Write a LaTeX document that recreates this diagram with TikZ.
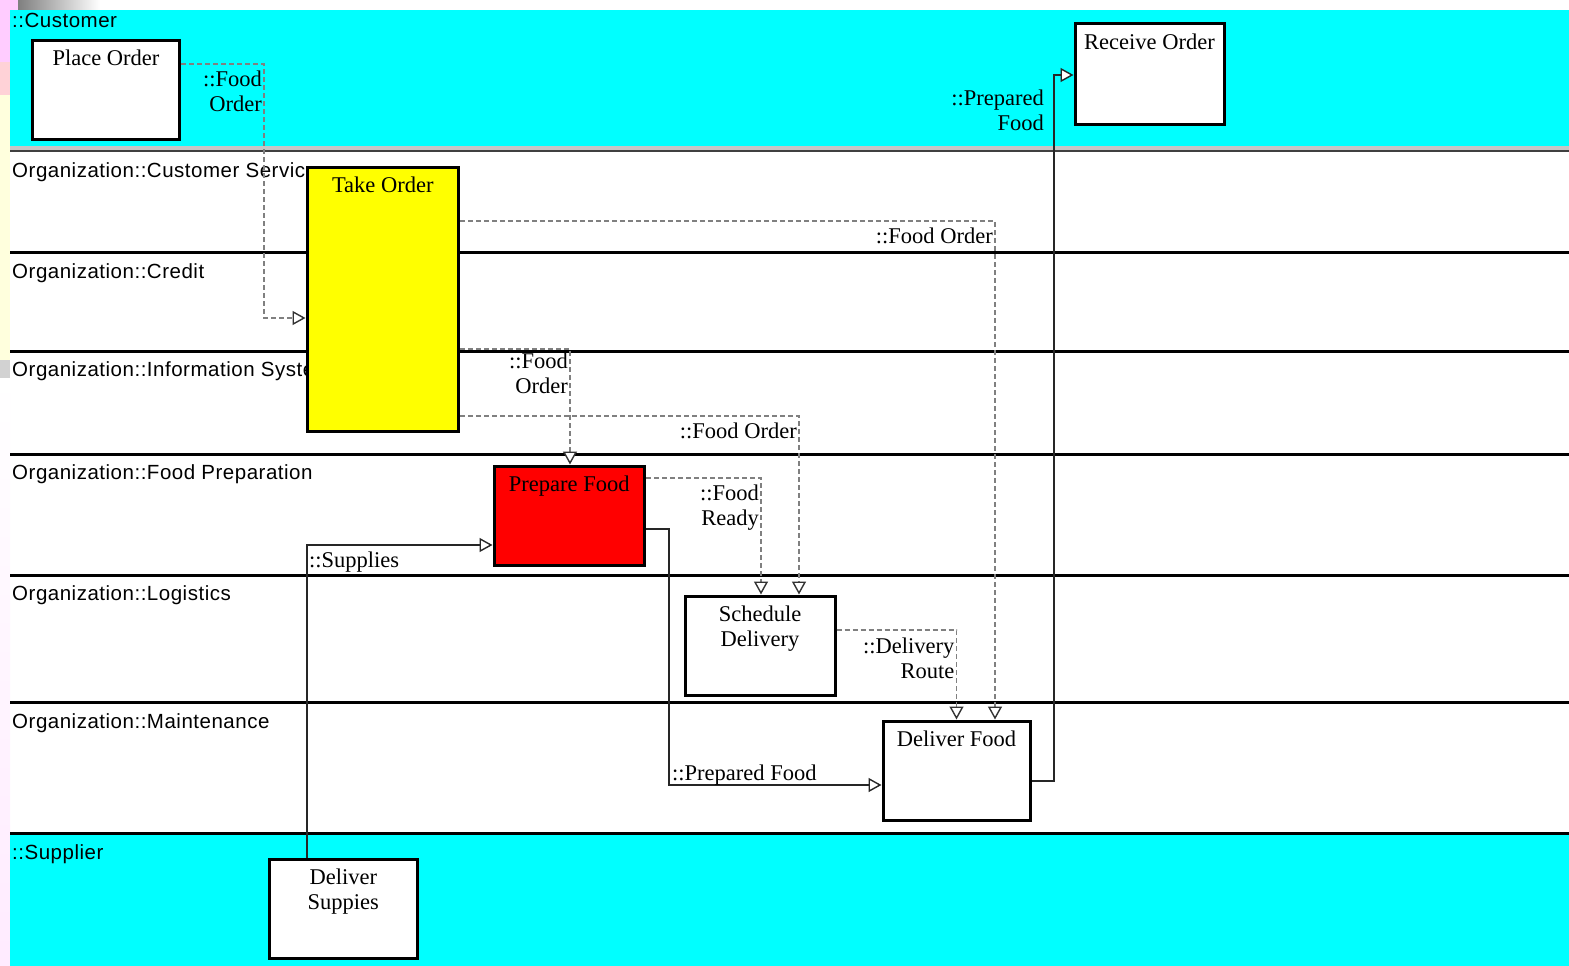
\documentclass[tikz,border=0pt]{standalone}
\usepackage{fontspec}
\setmainfont{Liberation Serif}
\newfontfamily\lanefont[LetterSpace=2.5]{Liberation Sans}
\usepackage{xcolor}
\usetikzlibrary{positioning, calc, arrows.meta}
\definecolor{lcyan}{RGB}{0,255,255}
\definecolor{lyellow}{RGB}{255,255,0}
\definecolor{lred}{RGB}{255,0,0}
\definecolor{dgray}{RGB}{128,128,128}
\definecolor{lpink}{RGB}{255,204,255}
\definecolor{lrose}{RGB}{255,210,215}
\definecolor{lcream}{RGB}{255,255,221}
\tikzstyle{Activity} = [
draw,
line width=3pt,
fill=white,
inner sep=0pt,
minimum width=149pt,
minimum height=99pt]
\tikzstyle{Caption} = [
inner sep=0pt,
align=center,
anchor=north,
yshift=-11pt,
font=\fontsize{22.5}{25}\selectfont]
\tikzstyle{Lane} = [
inner sep=0pt,
anchor=base west,
font=\lanefont\fontsize{20.5}{24}\selectfont]
\tikzstyle{LaneLine} = [line width=3pt, black]
\tikzstyle{FlowLabel} = [
inner sep=0pt,
align=right,
font=\fontsize{22.5}{25}\selectfont]
\tikzstyle{Flow} = [
line width=1.5pt,
black!85,
-{Triangle[length=13pt, width=14pt, line width=1.4pt, fill=white]}]
\tikzstyle{FlowDashed} = [
line width=1.3pt,
dgray,
dash pattern=on 5pt off 3pt,
-{Triangle[length=13pt, width=14pt, line width=1.4pt, color=black!80, fill=white]}]

\begin{document}
\begin{tikzpicture}[x=1pt, y=-1pt]
    \useasboundingbox (0,0) rectangle (1569,966);
    % slide background
    \fill[white] (0,0) rectangle (1569,966);
    \fill[lpink] (0,0) rectangle (18,10);
    \shade[left color=gray, right color=white] (18,0) rectangle (100,10);
    \fill[lpink] (0,10) rectangle (10,62);
    \fill[lrose] (0,62) rectangle (10,95);
    \fill[lcream] (0,95) rectangle (10,360);
    \fill[gray!35] (0,360) rectangle (10,378);
    \shade[top color=white, bottom color=lpink!40] (0,378) rectangle (10,966);

    % swimlanes
    \fill[lcyan] (10,10) rectangle (1569,146);
    \fill[gray!45] (10,146) rectangle (1569,149.5);
    \draw[line width=2pt, black!75] (10,150.5) -- (1569,150.5);
    \fill[lcyan] (10,833) rectangle (1569,966);
    \foreach \y in {252, 351, 454, 575, 702.5, 833}
        \draw[LaneLine] (10,\y) -- (1569,\y);

    \node[Lane] (l1) at (12,28) {::Customer};
    \node[Lane] (l2) at (12,177) {Organization::Customer Service};
    \node[Lane] (l3) at (12,278) {Organization::Credit};
    \node[Lane] (l4) at (12,376) {Organization::Information System};
    \node[Lane] (l5) at (12,479) {Organization::Food Preparation};
    \node[Lane] (l6) at (12,600) {Organization::Logistics};
    \node[Lane] (l7) at (12,728) {Organization::Maintenance};
    \node[Lane] (l8) at (12,859) {::Supplier};

    % activities
    \node[Activity, minimum width=147pt] (1) at (106,90) {};
    \node[Activity, minimum height=100pt] (2) at (1149.5,74) {};
    \node[Activity, fill=lyellow, minimum width=151.5pt, minimum height=264.5pt] (3) at (382.75,299.25) {};
    \node[Activity, fill=lred, minimum width=150.5pt] (4) at (569.25,515.5) {};
    \node[Activity, minimum width=150pt] (5) at (760,645.5) {};
    \node[Activity, minimum width=147pt] (6) at (956.5,770.5) {};
    \node[Activity, minimum width=148.5pt] (7) at (343.25,908.75) {};

    \node[Caption] at (1.north) {Place Order};
    \node[Caption] at (2.north) {Receive Order};
    \node[Caption] at (3.north) {Take Order};
    \node[Caption] at (4.north) {Prepare Food};
    \node[Caption] at (5.north) {Schedule\\Delivery};
    \node[Caption] at (6.north) {Deliver Food};
    \node[Caption] at (7.north) {Deliver\\Suppies};

    % object flows
    \coordinate (k1) at (264,64);
    \coordinate (k2) at (995,221);
    \coordinate (k3) at (570,349);
    \coordinate (k4) at (799,416);
    \coordinate (k5) at (761,478);
    \coordinate (k6) at (956.5,630);
    \coordinate (k7a) at (669,529);
    \coordinate (k7b) at (669,785);
    \coordinate (k8a) at (1054,781);
    \coordinate (k8b) at (1054,75);
    \coordinate (k9) at (307,545);

    \draw[FlowDashed] (1.east |- k1) -- (k1) |- (3.west |- 0,318);
    \draw[FlowDashed] (3.east |- k2) -- (k2) -- (k2 |- 6.north);
    \draw[FlowDashed] (3.east |- k3) -- (k3) -- (k3 |- 4.north);
    \draw[FlowDashed] (3.east |- k4) -- (k4) -- (k4 |- 5.north);
    \draw[FlowDashed] (4.east |- k5) -- (k5) -- (k5 |- 5.north);
    \draw[FlowDashed] (5.east |- k6) -- (k6) -- (k6 |- 6.north);
    \draw[Flow] (4.east |- k7a) -- (k7a) -- (k7b) -- (6.west |- k7b);
    \draw[Flow] (6.east |- k8a) -- (k8a) -- (k8b) -- (2.west |- k8b);
    \draw[Flow] (7.north -| k9) -- (k9) -- (4.west |- k9);

    \node[FlowLabel, below left=7pt and 2pt of k1] {::Food\\Order};
    \node[FlowLabel, below left=7pt and 2pt of k2] {::Food Order};
    \node[FlowLabel, below left=4pt and 2pt of k3] {::Food\\Order};
    \node[FlowLabel, below left=7pt and 2pt of k4] {::Food Order};
    \node[FlowLabel, below left=7pt and 2pt of k5] {::Food\\Ready};
    \node[FlowLabel, below left=8pt and 2pt of k6] {::Delivery\\Route};
    \node[FlowLabel, above right=0pt and 3pt of k7b] {::Prepared Food};
    \node[FlowLabel, below left=15pt and 10pt of k8b] {::Prepared\\Food};
    \node[FlowLabel, below right=7pt and 2pt of k9] {::Supplies};
\end{tikzpicture}
\end{document}
